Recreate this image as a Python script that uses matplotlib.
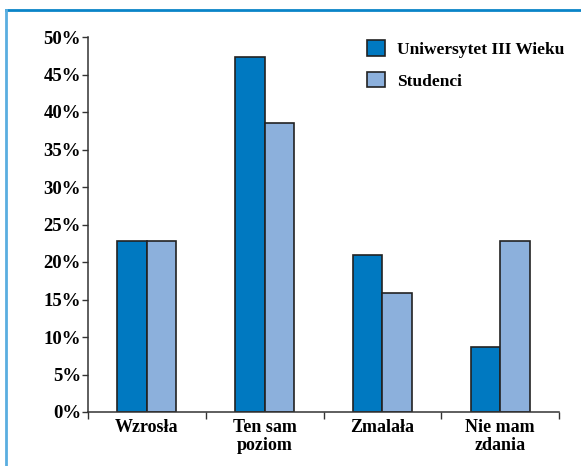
import matplotlib
matplotlib.use("Agg")
import matplotlib.pyplot as plt
from matplotlib.lines import Line2D
from matplotlib.ticker import FuncFormatter
import numpy as np

categories = ["Wzrosła", "Ten sam\npoziom", "Zmalała", "Nie mam\nzdania"]
series_names = ["Uniwersytet III Wieku", "Studenci"]
u3w = [22.8, 47.3, 20.9, 8.7]
studenci = [22.8, 38.5, 15.9, 22.8]
yticks = [0, 5, 10, 15, 20, 25, 30, 35, 40, 45, 50]

plt.rcParams['font.family'] = ['Liberation Serif', 'DejaVu Serif']
plt.rcParams['font.weight'] = 'bold'

fig = plt.figure(figsize=(5.81, 4.66), dpi=100)
ax = fig.add_axes([88/581, 1-412/466, (559-88)/581, (412-37)/466])

x = np.arange(len(categories))
w = 0.25
ax.bar(x - w/2, u3w, w, color="#0079c1", edgecolor="#222222", linewidth=1.2, label=series_names[0])
ax.bar(x + w/2, studenci, w, color="#8cb0dc", edgecolor="#222222", linewidth=1.2, label=series_names[1])

ax.set_xlim(-0.5, len(categories) - 0.5)
ax.set_ylim(0, 50)
ax.set_yticks(yticks)
ax.yaxis.set_major_formatter(FuncFormatter(lambda v, p: f"{int(v)}%"))
ax.set_xticks(np.arange(len(categories) + 1) - 0.5)
ax.set_xticklabels([])
ax.set_xticks(x, minor=True)
ax.set_xticklabels(categories, minor=True, fontsize=13, fontweight='bold', linespacing=1.05)
ax.tick_params(axis='x', which='minor', length=0, pad=5)
ax.tick_params(axis='x', which='major', length=5, width=1, direction='out', color="#333333")
ax.tick_params(axis='y', length=4, width=1, direction='out', color="#333333", labelsize=13.5, pad=1)
for lab in ax.get_yticklabels():
    lab.set_fontweight('bold')
for s in ['top', 'right']:
    ax.spines[s].set_visible(False)
for s in ['left', 'bottom']:
    ax.spines[s].set_linewidth(1.1)
    ax.spines[s].set_color("#333333")

leg = ax.legend(loc='upper left', bbox_to_anchor=(0.578, 1.01), frameon=False,
                prop={'family': ['Liberation Serif', 'DejaVu Serif'], 'weight': 'bold', 'size': 12.5},
                handlelength=1.0, handleheight=1.0, handletextpad=0.7, labelspacing=0.8,
                borderaxespad=0)
for p in leg.get_patches():
    p.set_linewidth(1.2)

fig.add_artist(Line2D([6/581, 1], [1-10/466, 1-10/466], color="#0a84c8", linewidth=2, transform=fig.transFigure))
fig.add_artist(Line2D([6/581, 6/581], [0, 1-10/466], color="#5aaee0", linewidth=2, transform=fig.transFigure))

fig.savefig("out.png", dpi=100)
